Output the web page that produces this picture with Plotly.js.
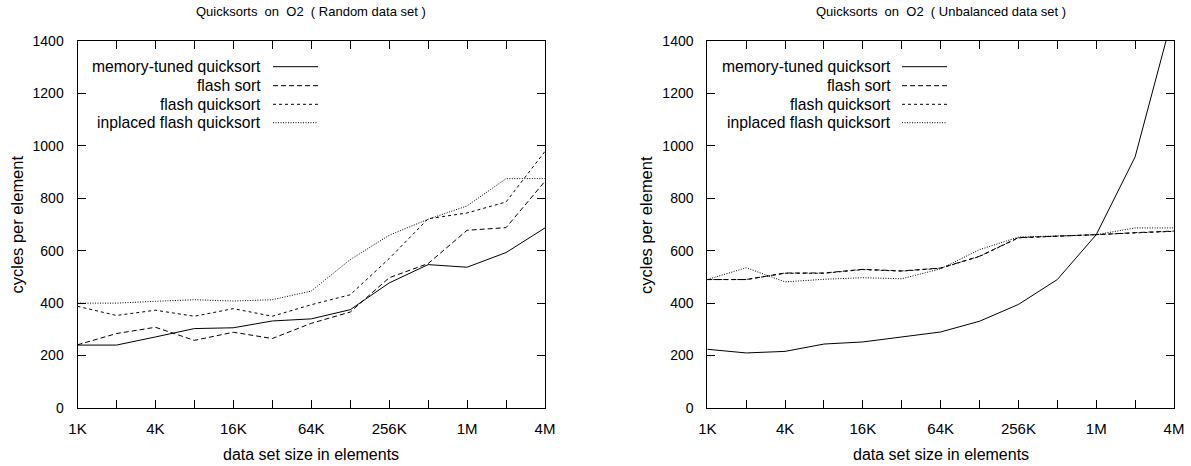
<!DOCTYPE html>
<html>
<head>
<meta charset="utf-8">
<script src="https://cdn.plot.ly/plotly-3.0.1.min.js"></script>
<style>html,body{margin:0;padding:0;background:#fff}#chart{width:1191px;height:466px}</style>
</head>
<body>
<div id="chart"></div>
<script>
// Data set sizes (elements): 1K .. 4M
const sizes = [1024, 2048, 4096, 8192, 16384, 32768, 65536, 131072, 262144, 524288, 1048576, 2097152, 4194304];
const tickLabels = ['1K', '', '4K', '', '16K', '', '64K', '', '256K', '', '1M', '', '4M'];
const yTickVals = [0, 200, 400, 600, 800, 1000, 1200, 1400];
const seriesNames = ['memory-tuned quicksort', 'flash sort', 'flash quicksort', 'inplaced flash quicksort'];

// Random data set (cycles per element)
const randMemoryTuned = [240, 240, 271, 303, 306, 332, 340, 375, 477, 547, 537, 593, 687];
const randFlashSort   = [241, 284, 308, 258, 289, 265, 323, 366, 497, 551, 678, 688, 865];
const randFlashQuick  = [388, 353, 373, 350, 379, 350, 394, 432, 570, 722, 744, 786, 979];
const randInplaced    = [400, 400, 407, 413, 408, 413, 446, 566, 659, 720, 771, 875, 875];

// Unbalanced data set (cycles per element)
const unbMemoryTuned = [224, 210, 216, 244, 252, 271, 290, 331, 395, 490, 661, 958, 1515];
const unbFlashSort   = [490, 490, 515, 515, 529, 523, 534, 579, 650, 655, 661, 669, 675];
const unbFlashQuick  = [490, 490, 514, 514, 528, 522, 533, 578, 649, 655, 661, 668, 674];
const unbInplaced    = [490, 535, 481, 491, 497, 493, 531, 604, 652, 656, 661, 687, 687];

const dashes = ['solid', '5px,3px', '3px,3px', '1px,1.5px'];
const FONT = 'Liberation Sans, Arial, sans-serif';

function mk(y, i, xa, ya) {
  return {x: sizes, y: y, type: 'scatter', mode: 'lines', name: seriesNames[i],
    xaxis: xa, yaxis: ya, showlegend: false,
    line: {color: '#000', width: 1, dash: dashes[i]}, hoverinfo: 'skip'};
}

const traces = [
  mk(randMemoryTuned, 0, 'x', 'y'), mk(randFlashSort, 1, 'x', 'y'),
  mk(randFlashQuick, 2, 'x', 'y'), mk(randInplaced, 3, 'x', 'y'),
  mk(unbMemoryTuned, 0, 'x2', 'y2'), mk(unbFlashSort, 1, 'x2', 'y2'),
  mk(unbFlashQuick, 2, 'x2', 'y2'), mk(unbInplaced, 3, 'x2', 'y2')
];

const W = 1191, H = 466;
const yTop = 41, yBot = 408;
function xaxis(d0, d1, anchor) {
  return {domain: [d0 / W, d1 / W], anchor: anchor, type: 'log',
    range: [Math.log10(sizes[0]), Math.log10(sizes[sizes.length - 1])],
    tickmode: 'array', tickvals: sizes, ticktext: tickLabels,
    ticks: 'inside', ticklen: 8, tickwidth: 1, tickcolor: '#000',
    showline: true, linecolor: '#000', linewidth: 1, mirror: 'ticks',
    showgrid: false, zeroline: false, ticklabelstandoff: 7,
    tickfont: {family: FONT, size: 15, color: '#000'}};
}
function yaxis(anchor) {
  return {domain: [1 - yBot / H, 1 - yTop / H], anchor: anchor, range: [0, 1400],
    tickmode: 'array', tickvals: yTickVals,
    ticks: 'inside', ticklen: 8, tickwidth: 1, tickcolor: '#000',
    showline: true, linecolor: '#000', linewidth: 1, mirror: 'ticks',
    showgrid: false, zeroline: false, ticklabelstandoff: 10,
    tickfont: {family: FONT, size: 14, color: '#000'}};
}

const annotations = [], shapes = [];
function txt(x, y, text, size, opts) {
  annotations.push(Object.assign({xref: 'paper', yref: 'paper', x: x / W, y: 1 - y / H,
    xanchor: 'center', yanchor: 'middle', showarrow: false, text: text,
    font: {family: FONT, size: size, color: '#000'}}, opts || {}));
}
// Legend drawn gnuplot-style: right-aligned text, sample line to the right
const rowY = [66.7, 85.7, 104.3, 122.7];
function legend(textRight, l0, l1) {
  seriesNames.forEach((n, i) => {
    txt(textRight, rowY[i], n, 15.7, {xanchor: 'right'});
    shapes.push({type: 'line', xref: 'paper', yref: 'paper', x0: l0 / W, x1: l1 / W,
      y0: 1 - rowY[i] / H, y1: 1 - rowY[i] / H, line: {color: '#000', width: 1, dash: dashes[i]}});
  });
}
legend(263, 273, 318);
legend(893, 902, 947);

// Titles and axis titles
txt(311, 11, 'Quicksorts  on  O2  ( Random data set )', 13);
txt(940.5, 11, 'Quicksorts  on  O2  ( Unbalanced data set )', 13);
txt(311, 454, 'data set size in elements', 16);
txt(940.5, 454, 'data set size in elements', 16);
txt(16.5, 225, 'cycles per element', 16.5, {textangle: -90});
txt(646, 225, 'cycles per element', 16.5, {textangle: -90});

const layout = {
  width: W, height: H, margin: {l: 0, r: 0, t: 0, b: 0},
  paper_bgcolor: '#fff', plot_bgcolor: '#fff',
  font: {family: FONT, color: '#000'},
  xaxis: xaxis(77.5, 545, 'y'), yaxis: yaxis('x'),
  xaxis2: xaxis(707.3, 1174, 'y2'), yaxis2: yaxis('x2'),
  annotations: annotations, shapes: shapes, showlegend: false
};
Plotly.newPlot('chart', traces, layout, {staticPlot: true, displayModeBar: false});
</script>
</body>
</html>
